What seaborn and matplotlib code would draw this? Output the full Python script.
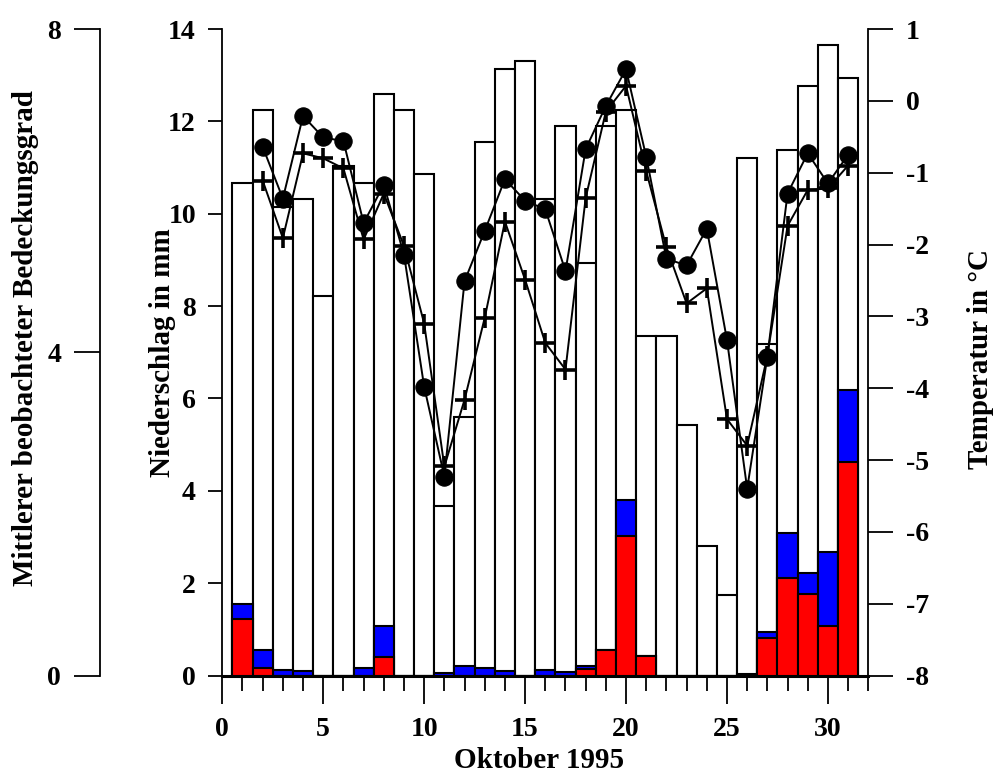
import numpy as np
import matplotlib
matplotlib.use("Agg")
import matplotlib.pyplot as plt
from matplotlib.ticker import MultipleLocator
import seaborn as sns

# Datos del mes (Oktober 1995)
dias = list(range(1, 32))
nubosidad = [6.1, 7.0, 5.8, 5.9, 4.7, 6.3, 6.1, 7.2, 7.0, 6.2, 2.1, 3.2, 6.6, 7.5, 7.6,
             5.9, 6.8, 5.1, 6.8, 7.0, 4.2, 4.2, 3.1, 1.6, 1.0, 6.4, 4.1, 6.5, 7.3, 7.8, 7.4]
lluvia_roja = [1.23, 0.16, 0, 0, 0, 0, 0, 0.41, 0, 0, 0, 0, 0, 0, 0, 0, 0, 0.15, 0.55, 3.03,
               0.43, 0, 0, 0, 0, 0, 0.82, 2.11, 1.77, 1.08, 4.63]
lluvia_azul = [0.32, 0.40, 0.11, 0.10, 0, 0, 0.16, 0.67, 0, 0, 0.05, 0.20, 0.16, 0.10, 0,
               0.13, 0.07, 0.05, 0, 0.77, 0, 0, 0, 0, 0, 0.03, 0.13, 0.97, 0.44, 1.60, 1.55]
dias_temp = list(range(2, 32))
temp_circulo = [-0.64, -1.36, -0.21, -0.51, -0.56, -1.70, -1.17, -2.14, -3.98, -5.23,
                -2.51, -1.81, -1.09, -1.39, -1.51, -2.37, -0.67, -0.07, 0.44, -0.78,
                -2.20, -2.29, -1.78, -3.33, -5.40, -3.56, -1.29, -0.73, -1.15, -0.75]
temp_cruz = [-1.11, -1.91, -0.73, -0.80, -0.94, -1.93, -1.29, -2.02, -3.10, -5.09,
             -4.16, -3.02, -1.68, -2.49, -3.37, -3.74, -1.35, -0.15, 0.21, -0.98,
             -2.04, -2.82, -2.61, -4.43, -4.80, -3.55, -1.74, -1.24, -1.22, -0.90]

sns.set_style("ticks", {"axes.edgecolor": "black", "xtick.color": "black",
                        "ytick.color": "black", "text.color": "black",
                        "axes.labelcolor": "black"})
plt.rcParams["font.family"] = ["Liberation Serif", "DejaVu Serif"]
plt.rcParams["font.weight"] = "bold"
plt.rcParams["axes.labelweight"] = "bold"
plt.rcParams["axes.unicode_minus"] = False
plt.rcParams["font.size"] = 20

fig = plt.figure(figsize=(10, 7.78), dpi=100)
ax_nub = fig.add_axes([0.2223, 0.1317, 0.646, 0.831])
ax_ll = ax_nub.twinx()
ax_t = ax_nub.twinx()

# Barras blancas: grado de nubosidad
sns.barplot(x=dias, y=nubosidad, native_scale=True, width=1, color="white",
            saturation=1, edgecolor="black", linewidth=1.5, errorbar=None, ax=ax_nub)

# Barras apiladas: precipitacion (azul encima de rojo)
total = np.array(lluvia_roja) + np.array(lluvia_azul)
sns.barplot(x=dias, y=total, native_scale=True, width=1, color="blue",
            saturation=1, edgecolor="black", linewidth=1.5, errorbar=None, ax=ax_ll)
sns.barplot(x=dias, y=lluvia_roja, native_scale=True, width=1, color="red",
            saturation=1, edgecolor="black", linewidth=1.5, errorbar=None, ax=ax_ll)

# Temperaturas
sns.lineplot(x=dias_temp, y=temp_circulo, marker="o", markersize=12.5, color="black",
             markeredgecolor="black", linewidth=1.4, sort=False, ax=ax_t)
sns.lineplot(x=dias_temp, y=temp_cruz, marker="+", markersize=14, markeredgewidth=2.6,
             markeredgecolor="black", color="black", linewidth=1.4, sort=False, ax=ax_t)

ax_nub.set_xlim(0, 32)
ax_nub.set_ylim(0, 8)
ax_ll.set_ylim(0, 14)
ax_t.set_ylim(-8, 1)

# Ejes y bordes
for s in ["top", "right"]:
    ax_nub.spines[s].set_visible(False)
ax_nub.spines["left"].set_position(("axes", -0.1893))
ax_nub.spines["bottom"].set_linewidth(2.2)
ax_nub.spines["left"].set_linewidth(1.3)

for s in ["top", "right", "bottom"]:
    ax_ll.spines[s].set_visible(False)
ax_ll.spines["left"].set_visible(True)
ax_ll.spines["left"].set_linewidth(1.3)
ax_ll.yaxis.tick_left()
ax_ll.yaxis.set_label_position("left")

for s in ["top", "left", "bottom"]:
    ax_t.spines[s].set_visible(False)
ax_t.spines["right"].set_linewidth(1.3)

ax_nub.xaxis.set_major_locator(MultipleLocator(5))
ax_nub.xaxis.set_minor_locator(MultipleLocator(1))
ax_nub.tick_params(axis="x", which="major", length=20, width=1.3, pad=10, labelsize=20)
ax_nub.tick_params(axis="x", which="minor", length=11, width=1.3)
ax_nub.set_yticks([0, 4, 8])
ax_nub.tick_params(axis="y", length=19, width=1.3, pad=9, labelsize=20)
ax_ll.set_yticks(range(0, 15, 2))
ax_ll.tick_params(axis="y", length=10, width=1.3, pad=9, labelsize=20)
ax_t.set_yticks(range(-8, 2))
ax_t.tick_params(axis="y", length=18, width=1.3, pad=9, labelsize=20)

ax_nub.set_xlabel("Oktober 1995", fontsize=21, fontweight="bold", va="center")
ax_nub.xaxis.set_label_coords(0.49, -0.131)
ax_nub.set_ylabel("Mittlerer beobachteter Bedeckungsgrad", fontsize=21,
                  fontweight="bold", va="center")
ax_nub.yaxis.set_label_coords(-0.305, 0.522)
ax_ll.set_ylabel("Niederschlag in mm", fontsize=21, fontweight="bold", va="center")
ax_ll.yaxis.set_label_coords(-0.092, 0.5)
ax_t.set_ylabel("Temperatur in °C", fontsize=21, fontweight="bold", va="center")
ax_t.yaxis.set_label_coords(1.173, 0.49)

fig.savefig("out.png", dpi=100)
